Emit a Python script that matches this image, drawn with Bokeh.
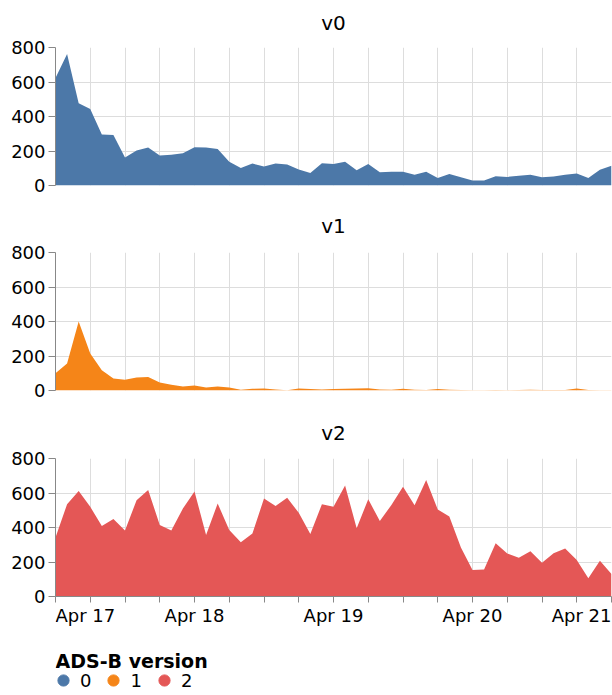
import pandas as pd
from bokeh.plotting import figure
from bokeh.models import (ColumnDataSource, Range1d, FixedTicker, Legend, LegendItem, Title)
from bokeh.core.properties import value, field
from bokeh.layouts import column
from bokeh.embed import file_html
from bokeh.resources import INLINE

# ---- data ----
times = pd.date_range("2024-04-17 00:00", periods=49, freq="2h")

v0 = [623, 762, 477, 444, 295, 293, 162, 203, 220, 174, 178, 187, 222, 220, 212, 137,
      102, 127, 110, 127, 122, 93, 73, 129, 125, 138, 88, 125, 77, 79, 79, 63, 79, 44,
      67, 48, 29, 29, 54, 50, 56, 62, 48, 52, 63, 69, 44, 92, 115]
v1 = [100, 157, 400, 215, 118, 70, 62, 76, 78, 47, 33, 23, 29, 17, 23, 17, 4, 10, 12,
      6, 2, 12, 8, 6, 8, 10, 12, 13, 6, 5, 10, 5, 3, 8, 4, 3, 2, 2, 3, 2, 3, 5, 3, 3,
      3, 12, 3, 2, 2]
v2 = [342, 535, 612, 520, 408, 450, 383, 558, 618, 415, 383, 510, 609, 357, 539, 386,
      315, 365, 568, 525, 572, 485, 363, 535, 521, 643, 396, 564, 437, 531, 636, 529,
      676, 504, 464, 284, 153, 156, 309, 249, 224, 263, 195, 251, 278, 211, 106, 207, 131]

series_titles = ["v0", "v1", "v2"]
legend_title = "ADS-B version"
legend_labels = ["0", "1", "2"]
colors = ["#4c78a8", "#f58518", "#e45756"]
y_ticks = [0, 200, 400, 600, 800]
x_ticks = pd.date_range("2024-04-17 00:00", "2024-04-21 00:00", freq="6h")
day_ticks = pd.date_range("2024-04-17", "2024-04-21", freq="1D")
day_labels = ["Apr 17", "Apr 18", "Apr 19", "Apr 20", "Apr 21"]

# ---- helpers ----
def ms(t):
    return float(pd.Timestamp(t).value // 10**6)

tick_ms = [ms(t) for t in x_ticks]
x0, x1 = tick_ms[0], tick_ms[-1]
FONT = "DejaVu Sans"
W = 612

source = ColumnDataSource(dict(t=[ms(t) for t in times], v0=v0, v1=v1, v2=v2))


def make_fig(idx, border_top, standoff, border_bottom, show_x, valign="bottom"):
    name = series_titles[idx]
    height = border_top + 138 + border_bottom
    p = figure(width=W, height=height, output_backend="svg", toolbar_location=None,
               x_axis_type="datetime", x_range=Range1d(x0, x1), y_range=Range1d(0, 800),
               min_border_left=55, min_border_right=1, min_border_top=border_top,
               min_border_bottom=border_bottom, title=None)
    p.add_layout(Title(text=name, align="center", vertical_align=valign,
                       text_font_size="20px", text_font_style="normal", text_font=FONT,
                       text_color="#000000", standoff=standoff), "above")
    p.outline_line_color = None
    p.background_fill_color = "white"
    p.border_fill_color = "white"

    p.varea(x="t", y1=0, y2=name, source=source, fill_color=colors[idx], fill_alpha=1.0)

    p.xgrid.ticker = FixedTicker(ticks=tick_ms)
    p.ygrid.ticker = FixedTicker(ticks=y_ticks)
    for g in (p.xgrid, p.ygrid):
        g.grid_line_color = "#dddddd"
        g.grid_line_width = 1

    ya = p.yaxis[0]
    ya.ticker = FixedTicker(ticks=y_ticks)
    ya.major_label_text_font_size = "18px"
    ya.major_label_text_font = FONT
    ya.major_label_text_color = "#000000"
    ya.axis_line_color = "#888888"
    ya.major_tick_line_color = "#888888"
    ya.minor_tick_line_color = None
    ya.major_tick_out = 7
    ya.major_tick_in = 0
    ya.major_label_standoff = 3

    xa = p.xaxis[0]
    if show_x:
        xa.ticker = FixedTicker(ticks=tick_ms)
        xa.major_label_overrides = {v: "" for v in tick_ms}
        xa.major_label_text_font_size = "1px"
        xa.major_label_standoff = 0
        xa.axis_line_color = "#888888"
        xa.major_tick_line_color = "#888888"
        xa.minor_tick_line_color = None
        xa.major_tick_out = 6
        xa.major_tick_in = 0
    else:
        xa.visible = False
    return p


p0 = make_fig(0, 47, 21, 11, False, valign="top")
p1 = make_fig(1, 56, 30, 14, False)
p2 = make_fig(2, 54, 28, 10, True)

# ---- bottom strip: date labels (flush at the ends) and legend ----
H4 = 88
p3 = figure(width=W, height=H4, output_backend="svg", toolbar_location=None,
            x_axis_type="datetime", x_range=Range1d(x0, x1), y_range=Range1d(-H4, 0),
            min_border_left=55, min_border_right=1, min_border_top=0,
            min_border_bottom=0, title=None)
p3.outline_line_color = None
p3.xaxis.visible = False
p3.yaxis.visible = False
p3.xgrid.visible = False
p3.ygrid.visible = False

aligns = ["left"] + ["center"] * (len(day_labels) - 2) + ["right"]
lab_src = ColumnDataSource(dict(x=[ms(t) for t in day_ticks], y=[-9] * len(day_labels),
                                text=day_labels, align=aligns))
p3.text(x="x", y="y", text="text", source=lab_src, text_align=field("align"),
        text_baseline="alphabetic", text_font=value(FONT), text_font_size="18px",
        text_color="#000000")

p3.text(x=[x0], y=[-54], text=[legend_title], text_align="left",
        text_baseline="alphabetic", text_font=value(FONT), text_font_size="19px",
        text_font_style="bold", text_color="#000000")

items = []
for lab, col in zip(legend_labels, colors):
    # legend swatch only: a single undefined point, never drawn in the plot area
    r = p3.scatter(x=[x0], y=[float("nan")], marker="circle", fill_color=col,
                   line_color=col)
    items.append(LegendItem(label=lab, renderers=[r]))
legend = Legend(items=items, orientation="horizontal", location=(-6, 0),
                glyph_width=28, glyph_height=28, label_standoff=3, spacing=8,
                label_width=11, padding=0, margin=0, border_line_color=None,
                background_fill_alpha=0, label_text_font_size="18px",
                label_text_font=FONT, label_text_color="#000000")
p3.add_layout(legend, "center")

layout = column(p0, p1, p2, p3, spacing=0)
open("out.html", "w").write(file_html(layout, INLINE))
